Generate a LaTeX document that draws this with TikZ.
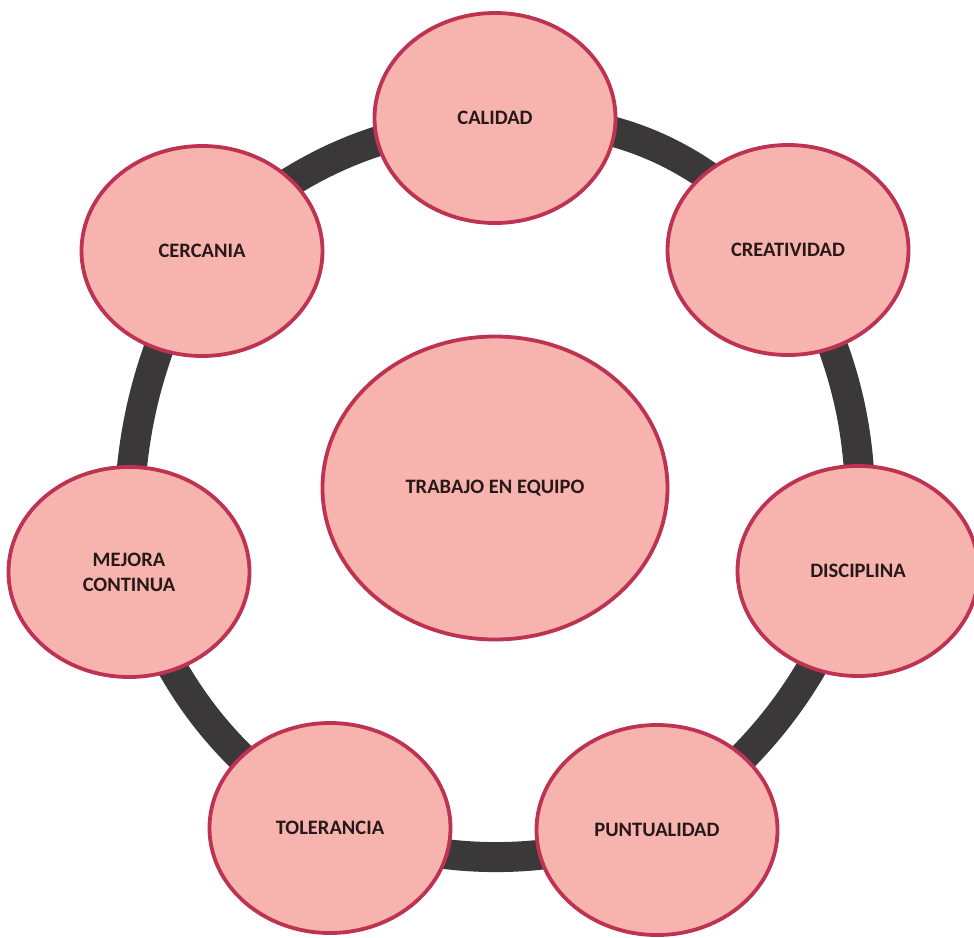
\documentclass[tikz,border=0pt]{standalone}
\usepackage{fontspec}
\setmainfont{Carlito}
\usetikzlibrary{shapes.geometric,backgrounds}
\definecolor{pinkfill}{RGB}{247,180,175}
\definecolor{rimred}{RGB}{190,50,82}
\definecolor{ringgray}{RGB}{58,56,56}
\definecolor{txt}{RGB}{40,24,24}
\tikzset{
  value/.style={ellipse, draw=rimred, fill=pinkfill, line width=3.8pt,
    minimum width=241pt, minimum height=210pt, inner sep=0pt,
    font=\bfseries\fontsize{20.5}{25}\selectfont, text=txt, align=center},
  hub/.style={value, minimum width=345pt, minimum height=303pt},
  ring/.style={draw=ringgray, line width=30pt, bend left=#1},
  ring/.default=17
}
\begin{document}
\begin{tikzpicture}[x=1pt,y=-1pt]
\useasboundingbox (0,0) rectangle (974,937);
\node[hub] (tre) at (495,488) {TRABAJO EN EQUIPO};
\node[value] (cal) at (495,118) {CALIDAD};
\node[value] (cre) at (788,250) {CREATIVIDAD};
\node[value] (dis) at (858,571) {DISCIPLINA};
\node[value] (pun) at (657,830) {PUNTUALIDAD};
\node[value] (tol) at (330,828) {TOLERANCIA};
\node[value] (mej) at (129,572) {MEJORA\\CONTINUA};
\node[value] (cer) at (202,251) {CERCANIA};
\begin{scope}[on background layer]
\draw[ring=25] (cal.center) to (cre.center);
\draw[ring=16.5] (cre.center) to (dis.center);
\draw[ring=16] (dis.center) to (pun.center);
\draw[ring=17] (pun.center) to (tol.center);
\draw[ring=18] (tol.center) to (mej.center);
\draw[ring=14.5] (mej.center) to (cer.center);
\draw[ring=18.5] (cer.center) to (cal.center);
\end{scope}
\end{tikzpicture}
\end{document}
